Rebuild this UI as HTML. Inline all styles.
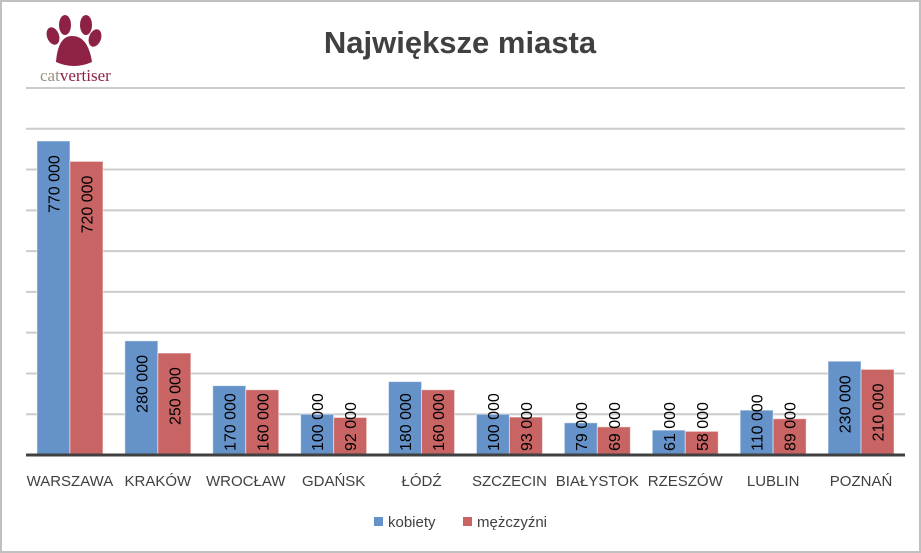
<!DOCTYPE html>
<html><head><meta charset="utf-8"><style>
html,body{margin:0;padding:0;background:#fff}
svg{display:block;font-family:"Liberation Sans",sans-serif}
</style></head><body>
<svg id="chart" width="921" height="553">
<rect x="1" y="1" width="919" height="551" fill="#fff" stroke="#c0c0c0" stroke-width="2"/>
<g>
<path d="M56 62 Q58 36 72 36 Q88 36 92 62 Q74 70 56 62Z" fill="#8e2244"/>
<ellipse cx="53" cy="36" rx="6" ry="9" fill="#8e2244" transform="rotate(-20 53 36)"/>
<ellipse cx="65" cy="25" rx="6" ry="10" fill="#8e2244"/>
<ellipse cx="86" cy="25" rx="6" ry="10" fill="#8e2244"/>
<ellipse cx="95" cy="38" rx="6" ry="9" fill="#8e2244" transform="rotate(20 95 38)"/>
<text x="40" y="81" font-family="Liberation Serif,serif" font-size="17"><tspan fill="#9a9080">cat</tspan><tspan fill="#8e2244">vertiser</tspan></text>
</g>
<text x="460" y="53" text-anchor="middle" font-size="31" font-weight="bold" fill="#404040">Największe miasta</text>
<g id="grid"></g><g id="bars"></g><g id="xlabels"></g>
<g>
<g><rect x="374" y="517" width="9" height="9" fill="#6592c9"/><text x="388" y="527" font-size="15" fill="#404040">kobiety</text></g>
<g><rect x="463" y="517" width="9" height="9" fill="#c86464"/><text x="477" y="527" font-size="15" fill="#404040">mężczyźni</text></g>
</g>
</svg>
<script>
const categories=["WARSZAWA","KRAKÓW","WROCŁAW","GDAŃSK","ŁÓDŹ","SZCZECIN","BIAŁYSTOK","RZESZÓW","LUBLIN","POZNAŃ"];
const kobiety=[770000,280000,170000,100000,180000,100000,79000,61000,110000,230000];
const mezczyzni=[720000,250000,160000,92000,160000,93000,69000,58000,89000,210000];
const yMax=900000, yStep=100000;
const NS="http://www.w3.org/2000/svg";
const L=26,R=905,T=88,B=455;
const cw=(R-L)/categories.length, bw=33;
const y=v=>B-(v/yMax)*(B-T);
const xc=i=>L+cw*(i+0.5);
function mk(tag,attrs,parent){const e=document.createElementNS(NS,tag);for(const k in attrs)e.setAttribute(k,attrs[k]);parent.appendChild(e);return e;}
const grid=document.getElementById('grid');
for(let v=yStep;v<=yMax;v+=yStep){
 const l=mk('line',{x1:L,x2:R,y1:y(v),y2:y(v),stroke:'#cccccc','stroke-width':2},grid);
 
 
}
const bars=document.getElementById('bars');
const fmt=v=>{const s=String(v);return s.length>3?s.slice(0,-3)+' '+s.slice(-3):s;};
function bar(v,x,fill,name){
 const r=mk('rect',{x:x,y:y(v),width:bw,height:B-y(v),fill:fill,stroke:'#ffffff','stroke-opacity':0.5},bars);
 
 
 const len=66;
 let top=y(v)+6; if(top+len>B-4) top=B-4-len;
 const tx=x+bw/2+6, ty=top+len;
 const t=mk('text',{x:tx,y:ty,'font-size':16,fill:'#000',transform:`rotate(-90 ${tx} ${ty})`},bars);
 t.textContent=fmt(v);
 
 
}
categories.forEach((c,i)=>{
 bar(kobiety[i],xc(i)-bw,'#6592c9','bar-kobiety');
 bar(mezczyzni[i],xc(i),'#c86464','bar-mezczyzni');
 const t=mk('text',{x:xc(i),y:486,'text-anchor':'middle','font-size':15,fill:'#404040'},document.getElementById('xlabels'));
 t.textContent=c;
 
 
});
const ax=mk('line',{x1:L,x2:R,y1:B,y2:B,stroke:'#404040','stroke-width':3},grid.parentNode);


</script>
</body></html>
